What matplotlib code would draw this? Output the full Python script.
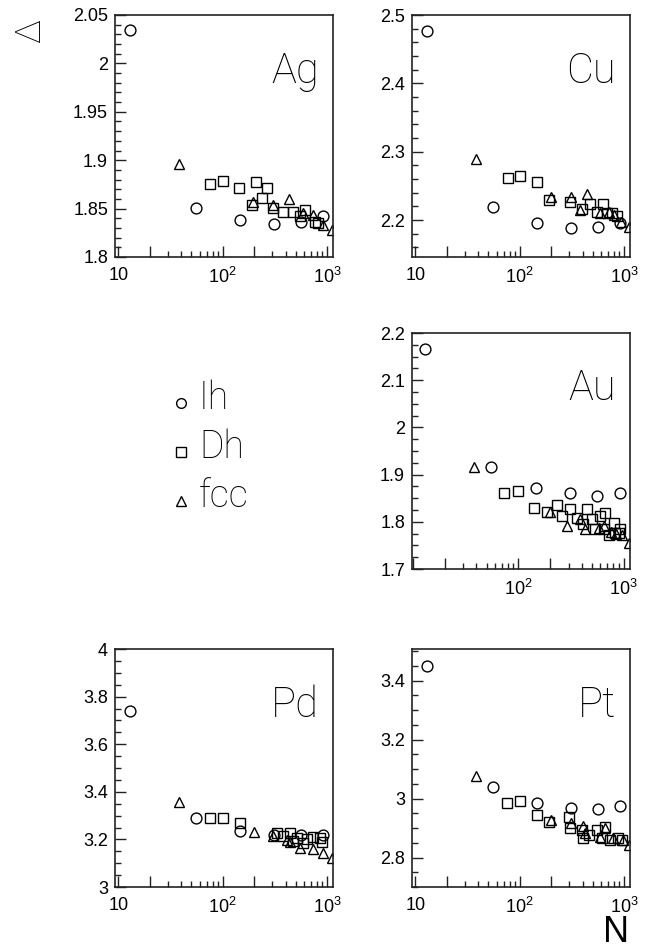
import matplotlib
matplotlib.use("Agg")
import matplotlib.pyplot as plt
from matplotlib.lines import Line2D
from matplotlib.ticker import FixedLocator, MultipleLocator, FuncFormatter, NullFormatter

plt.rcParams["font.family"] = ["Liberation Sans", "DejaVu Sans"]
plt.rcParams["mathtext.fontset"] = "custom"
plt.rcParams["mathtext.rm"] = "Liberation Sans"

# ---- cluster sizes and excess energies, one set of arrays per metal ----
ag_ih_n = [13, 55, 147, 309, 561, 923]
ag_ih = [2.035, 1.851, 1.838, 1.834, 1.836, 1.842]
ag_dh_n = [75, 100, 144, 207, 264, 190, 236, 305, 380, 474, 550, 614, 766, 824]
ag_dh = [1.875, 1.878, 1.871, 1.877, 1.871, 1.854, 1.861, 1.851, 1.847, 1.847,
         1.842, 1.849, 1.836, 1.835]
ag_fcc_n = [38, 196, 305, 431, 586, 738, 920, 1120]
ag_fcc = [1.896, 1.857, 1.854, 1.860, 1.845, 1.843, 1.833, 1.828]

cu_ih_n = [13, 55, 147, 309, 561, 923]
cu_ih = [2.477, 2.219, 2.196, 2.189, 2.190, 2.196]
cu_dh_n = [77, 101, 146, 192, 303, 392, 471, 545, 631, 680, 759, 847]
cu_dh = [2.261, 2.264, 2.256, 2.229, 2.227, 2.216, 2.223, 2.212, 2.224, 2.210,
         2.211, 2.206]
cu_fcc_n = [38, 199, 307, 380, 437, 586, 711, 807, 925, 1110]
cu_fcc = [2.289, 2.234, 2.234, 2.215, 2.238, 2.210, 2.212, 2.207, 2.197, 2.190]

au_ih_n = [13, 55, 147, 309, 561, 923]
au_ih = [2.166, 1.916, 1.872, 1.861, 1.855, 1.862]
au_dh_n = [73, 99, 142, 186, 235, 259, 310, 360, 416, 448, 500, 538, 600, 645,
           670, 720, 803, 830, 900, 930]
au_dh = [1.862, 1.866, 1.829, 1.820, 1.836, 1.813, 1.827, 1.807, 1.795, 1.827,
         1.805, 1.784, 1.812, 1.784, 1.819, 1.773, 1.798, 1.777, 1.777, 1.784]
au_fcc_n = [38, 201, 289, 387, 431, 586, 650, 760, 840, 976, 1120]
au_fcc = [1.917, 1.820, 1.791, 1.805, 1.784, 1.787, 1.791, 1.778, 1.775, 1.773,
          1.755]

pd_ih_n = [13, 55, 147, 309, 561, 923]
pd_ih = [3.738, 3.290, 3.234, 3.218, 3.220, 3.220]
pd_dh_n = [75, 101, 146, 329, 380, 441, 474, 512, 591, 638, 738, 855, 887]
pd_dh = [3.290, 3.290, 3.269, 3.228, 3.214, 3.228, 3.193, 3.207, 3.186, 3.200,
         3.211, 3.207, 3.189]
pd_fcc_n = [38, 201, 305, 410, 441, 550, 738, 920, 1120]
pd_fcc = [3.356, 3.230, 3.213, 3.196, 3.187, 3.164, 3.160, 3.143, 3.122]

pt_ih_n = [13, 55, 147, 309, 561, 923]
pt_ih = [3.450, 3.039, 2.984, 2.967, 2.964, 2.973]
pt_dh_n = [75, 101, 146, 192, 298, 303, 392, 406, 463, 546, 610, 656, 733, 880, 949]
pt_dh = [2.984, 2.990, 2.945, 2.922, 2.939, 2.900, 2.894, 2.866, 2.877, 2.894,
         2.866, 2.903, 2.860, 2.866, 2.861]
pt_fcc_n = [38, 201, 307, 406, 422, 587, 656, 787, 976, 1120]
pt_fcc = [3.078, 2.928, 2.917, 2.908, 2.883, 2.871, 2.900, 2.866, 2.861, 2.844]

legend_labels = ["Ih", "Dh", "fcc"]
legend_markers = ["o", "s", "^"]

W, H = 649, 950
fig = plt.figure(figsize=(W / 100, H / 100), dpi=100)

LABEL_FONT = dict(family=["Roboto", "Lato", "DejaVu Sans"], fontweight="light")


def px_axes(left, top, right, bottom):
    return fig.add_axes([left / W, 1 - bottom / H, (right - left) / W, (bottom - top) / H])


def draw_panel(ax, name, ih, dh, fcc, ylim, ymaj, ymin, xlim=(9.3, 1140), show10=True):
    for (n, v), m in zip([ih, dh, fcc], legend_markers):
        ax.plot(n, v, ls="none", marker=m, ms=7.8, mfc="none", mec="black", mew=1.0)

    ax.set_xscale("log")
    ax.set_xlim(*xlim)
    ax.set_ylim(*ylim)

    ax.xaxis.set_major_locator(FixedLocator([10, 20, 100, 200, 1000]))
    ax.xaxis.set_major_formatter(FuncFormatter(
        lambda v, p: {10: "10" if show10 else "", 100: r"$10^{2}$", 1000: r"$10^{3}$"}.get(int(round(v)), "")))
    ax.xaxis.set_minor_locator(FixedLocator([k * 10 ** d for d in (1, 2) for k in range(3, 10)]))
    ax.xaxis.set_minor_formatter(NullFormatter())

    ax.yaxis.set_major_locator(MultipleLocator(ymaj))
    ax.yaxis.set_minor_locator(MultipleLocator(ymin))
    ax.yaxis.set_major_formatter(FuncFormatter(lambda v, p: f"{round(v, 4):g}"))

    ax.tick_params(which="both", direction="in", top=False, right=False,
                   width=1.0, color="#222222", labelsize=13)
    ax.tick_params(which="major", length=8)
    ax.tick_params(which="minor", length=4)
    ax.tick_params(axis="x", pad=7)
    ax.tick_params(axis="y", pad=5)
    for t in ax.xaxis.get_major_ticks():
        if int(round(t.get_loc())) in (20, 200):
            t.tick1line.set_markersize(5.5)
    for sp in ax.spines.values():
        sp.set_linewidth(1.2)
        sp.set_color("#222222")

    ax.text(0.935, 0.85, name, transform=ax.transAxes, ha="right", va="top",
            fontsize=30, **LABEL_FONT)


ax_ag = px_axes(115, 15, 333, 257)
draw_panel(ax_ag, "Ag", (ag_ih_n, ag_ih), (ag_dh_n, ag_dh), (ag_fcc_n, ag_fcc),
           (1.8, 2.05), 0.05, 0.01)

ax_cu = px_axes(412, 15, 630, 257)
draw_panel(ax_cu, "Cu", (cu_ih_n, cu_ih), (cu_dh_n, cu_dh), (cu_fcc_n, cu_fcc),
           (2.146, 2.5), 0.1, 0.02)

ax_au = px_axes(412, 333, 630, 569)
draw_panel(ax_au, "Au", (au_ih_n, au_ih), (au_dh_n, au_dh), (au_fcc_n, au_fcc),
           (1.7, 2.2), 0.1, 0.025, xlim=(9.8, 1150), show10=False)

ax_pd = px_axes(115, 649, 333, 887)
draw_panel(ax_pd, "Pd", (pd_ih_n, pd_ih), (pd_dh_n, pd_dh), (pd_fcc_n, pd_fcc),
           (3.0, 4.0), 0.2, 0.05)

ax_pt = px_axes(412, 649, 630, 887)
draw_panel(ax_pt, "Pt", (pt_ih_n, pt_ih), (pt_dh_n, pt_dh), (pt_fcc_n, pt_fcc),
           (2.70, 3.507), 0.2, 0.05)

# hand-placed legend in the empty slot
for i, (lab, m) in enumerate(zip(legend_labels, legend_markers)):
    ym = 403 + 49 * i
    fig.add_artist(Line2D([181 / W], [1 - ym / H], transform=fig.transFigure,
                          marker=m, ms=7, mfc="none", mec="black", mew=1.0, ls="none"))
    fig.text(199 / W, 1 - (ym + 6) / H, lab, ha="left", va="baseline",
             fontsize=27, **LABEL_FONT)

# axis titles
fig.text(30 / W, 1 - 31 / H, "Δ", rotation=90, ha="center", va="center",
         fontsize=25, **LABEL_FONT)
fig.text(629 / W, 0.0, "N", ha="right", va="bottom",
         fontsize=26, family=["Liberation Sans Narrow", "Liberation Sans"])

fig.savefig("out.png", dpi=100)
